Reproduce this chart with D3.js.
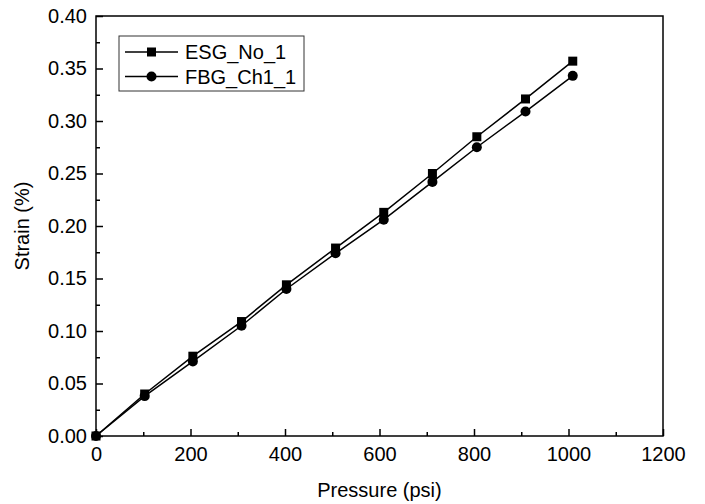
<html>
<head>
<script src="https://d3js.org/d3.v7.min.js"></script>
<style>
  body { margin: 0; background: #fff; }
  text { font-family: Arial, "Liberation Sans", sans-serif; fill: #000; }
</style>
</head>
<body>
<div id="chart"></div>
<script>
var pressure = [0, 103, 205, 308, 403, 507, 609, 712, 806, 909, 1009];
var esgNo1 = [0, 0.040, 0.076, 0.109, 0.144, 0.179, 0.213, 0.250, 0.285, 0.321, 0.357];
var fbgCh1 = [0, 0.038, 0.071, 0.105, 0.140, 0.174, 0.206, 0.242, 0.275, 0.309, 0.343];
var seriesNames = ['ESG_No_1', 'FBG_Ch1_1'];
var xTicks = [0, 200, 400, 600, 800, 1000, 1200];
var yTicks = [0, 0.05, 0.10, 0.15, 0.20, 0.25, 0.30, 0.35, 0.40];

var margin = {top: 16, right: 42, bottom: 68, left: 96};
var W = 705, H = 504;
var width = W - margin.left - margin.right;
var height = H - margin.top - margin.bottom;
var fontSize = '20px';

var svg = d3.select('#chart').append('svg')
    .attr('width', W)
    .attr('height', H);

var g = svg.append('g')
    .attr('transform', 'translate(' + margin.left + ',' + margin.top + ')');

var x = d3.scaleLinear().domain([0, 1200]).range([0, width]);
var y = d3.scaleLinear().domain([0, 0.40]).range([height, 0]);

// minor ticks (inward)
var xMinor = d3.range(100, 1200, 200);
var yMinor = d3.range(0.025, 0.40, 0.05);

var xAxis = d3.axisBottom(x).tickValues(xTicks).tickSizeInner(-7).tickSizeOuter(0).tickPadding(11)
    .tickFormat(d3.format('d'));
var yAxis = d3.axisLeft(y).tickValues(yTicks).tickSizeInner(-7).tickSizeOuter(0).tickPadding(9)
    .tickFormat(d3.format('.2f'));

var gx = g.append('g').attr('transform', 'translate(0,' + height + ')').call(xAxis);
var gy = g.append('g').call(yAxis);

g.append('g').attr('transform', 'translate(0,' + height + ')')
    .call(d3.axisBottom(x).tickValues(xMinor).tickSizeInner(-4).tickSizeOuter(0).tickFormat(''));
g.append('g')
    .call(d3.axisLeft(y).tickValues(yMinor).tickSizeInner(-4).tickSizeOuter(0).tickFormat(''));

g.selectAll('.domain').remove();
g.selectAll('.tick line').style('stroke', '#000').style('stroke-width', 1.5);
g.selectAll('.tick text').style('font-size', fontSize)
    .style('font-family', 'Arial, "Liberation Sans", sans-serif');

// frame
g.append('rect')
    .attr('x', 0).attr('y', 0)
    .attr('width', width).attr('height', height)
    .style('fill', 'none').style('stroke', '#000').style('stroke-width', 1.5);

// axis titles
svg.append('text')
    .attr('x', margin.left + width / 2)
    .attr('y', 497)
    .attr('text-anchor', 'middle')
    .style('font-size', fontSize)
    .text('Pressure (psi)');

svg.append('text')
    .attr('transform', 'translate(29,' + (margin.top + height / 2) + ') rotate(-90)')
    .attr('text-anchor', 'middle')
    .style('font-size', fontSize)
    .text('Strain (%)');

// data
var line = d3.line()
    .x(function(d) { return x(d[0]); })
    .y(function(d) { return y(d[1]); });

var esgData = pressure.map(function(p, i) { return [p, esgNo1[i]]; });
var fbgData = pressure.map(function(p, i) { return [p, fbgCh1[i]]; });

g.append('path').datum(esgData).attr('d', line)
    .style('fill', 'none').style('stroke', '#000').style('stroke-width', 1.5);
g.append('path').datum(fbgData).attr('d', line)
    .style('fill', 'none').style('stroke', '#000').style('stroke-width', 1.5);

g.selectAll('.sq').data(esgData).enter().append('rect')
    .attr('class', 'sq')
    .attr('x', function(d) { return x(d[0]) - 4.5; })
    .attr('y', function(d) { return y(d[1]) - 4.5; })
    .attr('width', 9).attr('height', 9)
    .style('fill', '#000');

g.selectAll('.ci').data(fbgData).enter().append('circle')
    .attr('class', 'ci')
    .attr('cx', function(d) { return x(d[0]); })
    .attr('cy', function(d) { return y(d[1]); })
    .attr('r', 5)
    .style('fill', '#000');

// legend
var lg = svg.append('g').attr('transform', 'translate(119,36)');
lg.append('rect')
    .attr('x', 0).attr('y', 0).attr('width', 185).attr('height', 55)
    .style('fill', '#fff').style('stroke', '#333').style('stroke-width', 1);

seriesNames.forEach(function(name, i) {
    var cy = 16 + i * 24.5;
    lg.append('line')
        .attr('x1', 6).attr('x2', 59).attr('y1', cy).attr('y2', cy)
        .style('stroke', '#000').style('stroke-width', 1.5);
    if (i === 0) {
        lg.append('rect').attr('x', 32.5 - 4.5).attr('y', cy - 4.5)
            .attr('width', 9).attr('height', 9).style('fill', '#000');
    } else {
        lg.append('circle').attr('cx', 32.5).attr('cy', cy).attr('r', 5).style('fill', '#000');
    }
    lg.append('text')
        .attr('x', 66).attr('y', cy + 7)
        .style('font-size', fontSize)
        .text(name);
});
</script>
</body>
</html>
